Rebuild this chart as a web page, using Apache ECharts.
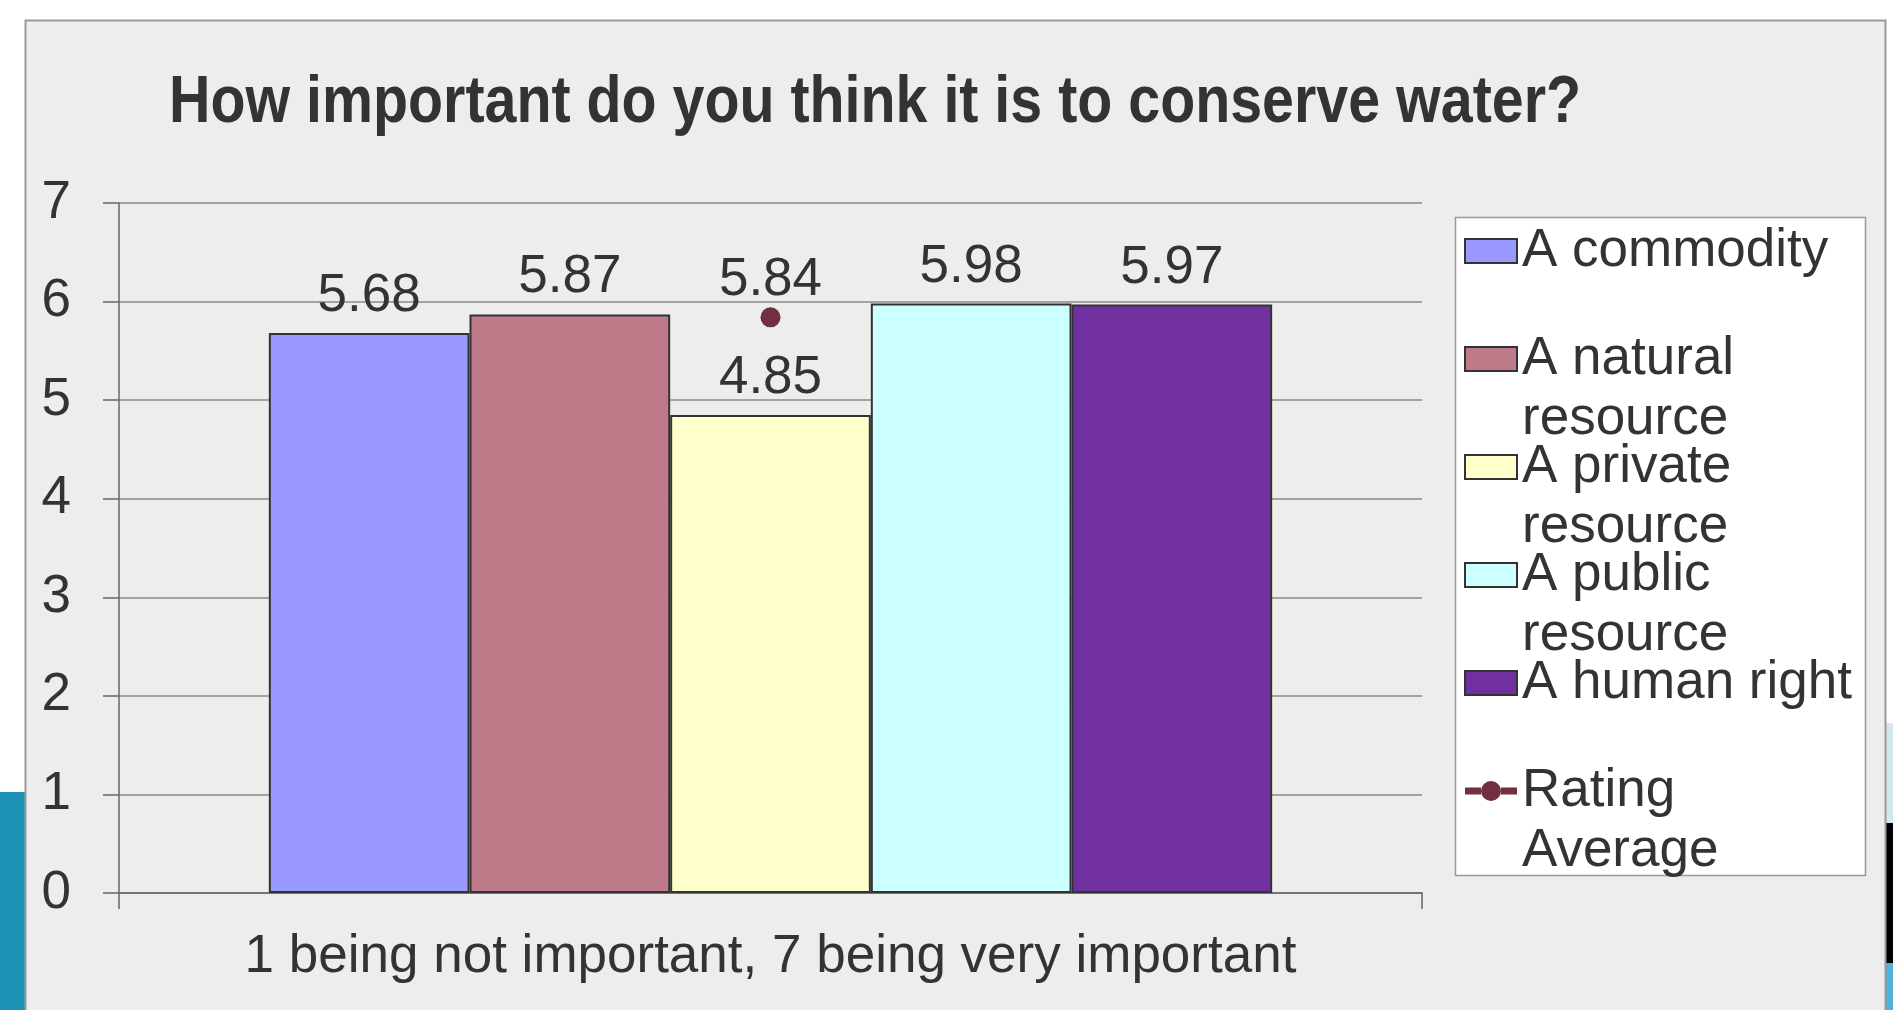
<!DOCTYPE html>
<html>
<head>
<meta charset="utf-8">
<script src="https://cdn.jsdelivr.net/npm/echarts@6/dist/echarts.min.js"></script>
<style>
  html,body{margin:0;padding:0;background:#fff}
  #chart{width:1893px;height:1010px}
</style>
</head>
<body>
<div id="chart"></div>
<script>
// data
var categories = ['1 being not important, 7 being very important'];
var seriesNames = ['A commodity', 'A natural resource', 'A private resource', 'A public resource', 'A human right'];
var barValues = [5.68, 5.87, 4.85, 5.98, 5.97];
var barColors = ['#9999ff', '#bf7a89', '#ffffcc', '#ccffff', '#7030a0'];
var ratingName = 'Rating Average';
var ratingValues = [5.84];
var yTicks = [0, 1, 2, 3, 4, 5, 6, 7];
var titleText = 'How important do you think it is to conserve water?';

// legend text: 3 lines each, middle one sits beside the swatch
var legendText = {
  'A commodity': '\nA commodity\n',
  'A natural resource': '\nA natural\nresource',
  'A private resource': '\nA private\nresource',
  'A public resource': '\nA public\nresource',
  'A human right': '\nA human right\n',
  'Rating Average': '\nRating\nAverage'
};

var FONT = '"Liberation Sans", Arial, sans-serif';
var TXT = '#333333';
var DOT = '#722f3f';

// title in the original is bold but condensed: squeeze it to its width
var titleFont = 'bold 66px "Liberation Sans", Arial, sans-serif';
var ctx = document.createElement('canvas').getContext('2d');
ctx.font = titleFont;
var titleScale = 1412 / ctx.measureText(titleText).width;

var chart = echarts.init(document.getElementById('chart'), null, {renderer: 'canvas'});

var series = seriesNames.map(function(name, i){
  return {
    name: name,
    type: 'bar',
    data: [barValues[i]],
    barGap: '0%',
    barCategoryGap: '23%',
    itemStyle: { color: barColors[i], borderColor: '#333', borderWidth: 2 },
    label: {
      show: true, position: 'top', distance: 10,
      fontFamily: FONT, fontSize: 53, color: TXT,
      formatter: function(p){ return p.value.toFixed(2); }
    }
  };
});
series.push({
  name: ratingName,
  type: 'line',
  data: ratingValues,
  symbol: 'circle',
  symbolSize: 20,
  itemStyle: { color: DOT },
  lineStyle: { color: DOT, width: 3 },
  label: {
    show: true, position: 'top', distance: 0,
    fontFamily: FONT, fontSize: 53, color: TXT,
    formatter: function(p){ return p.value.toFixed(2); }
  },
  z: 5
});

var legendData = seriesNames.map(function(n){ return {name: n, icon: 'rect'}; });
// line with a dot, like the original legend marker
legendData.push({
  name: ratingName,
  icon: 'path://M0,8.5H16V15.5H0Z M36,8.5H52V15.5H36Z M16,12A10,10 0 1,0 36,12A10,10 0 1,0 16,12Z',
  itemStyle: { color: DOT, borderWidth: 0 }
});

chart.setOption({
  backgroundColor: '#ffffff',
  animation: false,
  graphic: [
    // side decoration outside the panel
    { type: 'rect', shape: {x: 0, y: 792, width: 26, height: 218}, style: {fill: '#1c93b4'}, z: 0 },
    { type: 'rect', shape: {x: 1886, y: 723, width: 7, height: 100}, style: {fill: '#d3e7ef'}, z: 0 },
    { type: 'rect', shape: {x: 1886, y: 823, width: 7, height: 140}, style: {fill: '#000000'}, z: 0 },
    { type: 'rect', shape: {x: 1886, y: 963, width: 7, height: 47}, style: {fill: '#4fb3d9'}, z: 0 },
    // chart panel
    { type: 'rect', shape: {x: 25.5, y: 20.5, width: 1860, height: 1000}, style: {fill: '#ededed', stroke: '#9a9a9a', lineWidth: 2}, z: 0 },
    // legend box
    { type: 'rect', shape: {x: 1455.5, y: 217.5, width: 410, height: 658}, style: {fill: '#ffffff', stroke: '#999999', lineWidth: 1.5}, z: 1 },
    // title
    { type: 'text', x: 169, y: 71, scaleX: titleScale, z: 3,
      style: { text: titleText, fill: TXT, font: titleFont, verticalAlign: 'top' } }
  ],
  legend: {
    orient: 'vertical',
    left: 1464, top: 161,
    padding: 0,
    itemWidth: 52, itemHeight: 24,
    itemGap: -72,
    selectedMode: false,
    data: legendData,
    formatter: function(name){ return legendText[name]; },
    textStyle: { fontFamily: FONT, fontSize: 53, color: TXT, lineHeight: 60 },
    z: 5
  },
  grid: { left: 119, right: 471, top: 203, bottom: 117, containLabel: false },
  xAxis: {
    type: 'category',
    data: categories,
    axisLine: { show: true, lineStyle: { color: '#666', width: 1.5 } },
    axisTick: { show: true, length: 16, inside: false, lineStyle: { color: '#666', width: 1.5 } },
    axisLabel: { margin: 38, fontFamily: FONT, fontSize: 53, color: TXT },
    splitLine: { show: false }
  },
  yAxis: {
    type: 'value',
    min: yTicks[0], max: yTicks[yTicks.length - 1], interval: 1,
    axisLine: { show: true, lineStyle: { color: '#666', width: 1.5 } },
    axisTick: { show: true, length: 16, lineStyle: { color: '#666', width: 1.5 } },
    axisLabel: { margin: 48, fontFamily: FONT, fontSize: 53, color: TXT },
    splitLine: { show: true, lineStyle: { color: '#8a8a8a', width: 1.5 } }
  },
  series: series
});
</script>
</body>
</html>
